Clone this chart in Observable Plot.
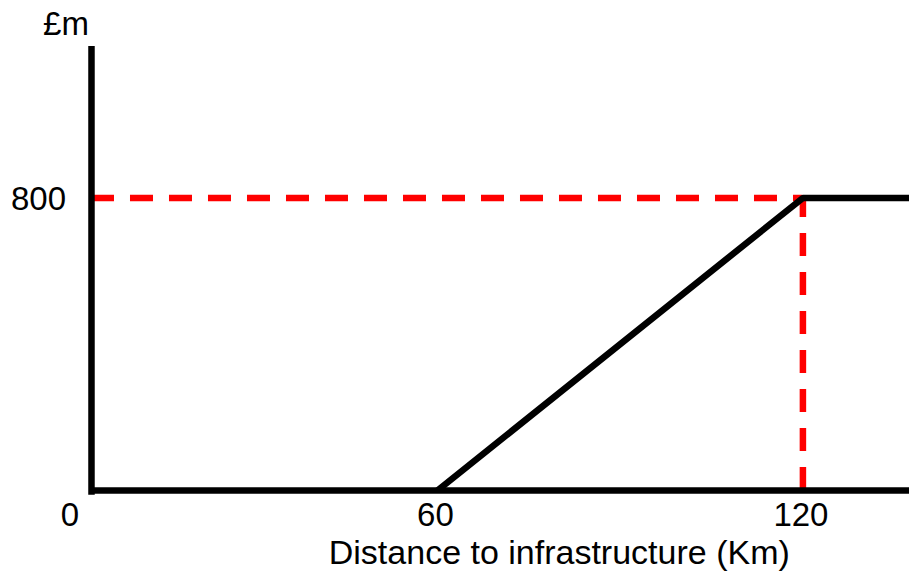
<!DOCTYPE html>
<html><head><meta charset="utf-8">
<script src="https://cdn.jsdelivr.net/npm/d3@7"></script>
<script src="https://cdn.jsdelivr.net/npm/@observablehq/plot@0.6"></script>
<style>body{margin:0;background:#fff} svg{display:block}</style>
</head><body><div id="chart"></div>
<script>
// Data
const distanceKm = [60, 120, 137.5];
const costMillions = [0, 800, 800];
const capDistance = 120;
const capCost = 800;
const xTickValues = [0, 60, 120];
const yTickValues = [800];
const xDomain = [0, 137.5];
const yDomain = [0, 1214];
const axisOriginX = 3.2;   // where the drawn y-axis line sits
const axisBelow = -13;     // y-axis line pokes slightly below the x-axis
const xTitleAt = 80;
const xTitle = "Distance to infrastructure (Km)";
const yTitle = "£m";

const curve = distanceKm.map((d, i) => ({distance: d, cost: costMillions[i]}));
const red = "#ff0000";

const chart = Plot.plot({
  width: 909, height: 574,
  marginLeft: 71.5, marginRight: 0, marginTop: 46, marginBottom: 84,
  x: {domain: xDomain, axis: null},
  y: {domain: yDomain, axis: null},
  style: {fontFamily: "'Liberation Sans', Arial, sans-serif", background: "#fff", overflow: "visible", color: "#000"},
  marks: [
    Plot.ruleY([capCost], {x1: axisOriginX, x2: capDistance, stroke: red, strokeWidth: 6.5, strokeDasharray: "23,16"}),
    Plot.ruleX([capDistance], {y1: 0, y2: capCost, stroke: red, strokeWidth: 6.5, strokeDasharray: "23,16"}),
    Plot.ruleY([0], {x1: axisOriginX, x2: xDomain[1], stroke: "#000", strokeWidth: 6.5}),
    Plot.ruleX([axisOriginX], {y1: axisBelow, y2: yDomain[1], stroke: "#000", strokeWidth: 6.5}),
    Plot.line(curve, {x: "distance", y: "cost", stroke: "#000", strokeWidth: 6.5, strokeLinejoin: "miter", strokeLinecap: "butt"}),
    Plot.text(xTickValues, {x: d => d, y: 0, dy: 25, dx: -2, text: d => String(d), fontSize: 33, fill: "#000"}),
    Plot.text(yTickValues, {x: 0, y: d => d, dx: -6, dy: 2, textAnchor: "end", text: d => String(d), fontSize: 33, fill: "#000"}),
    Plot.text([yTitle], {x: 0, y: yDomain[1], dx: -6, dy: -22, text: d => d, fontSize: 33, fill: "#000"}),
    Plot.text([xTitle], {x: xTitleAt, frameAnchor: "bottom", lineAnchor: "middle", dy: 63, text: d => d, fontSize: 34, fill: "#000"})
  ]
});
document.getElementById("chart").appendChild(chart);
</script>
</body></html>
